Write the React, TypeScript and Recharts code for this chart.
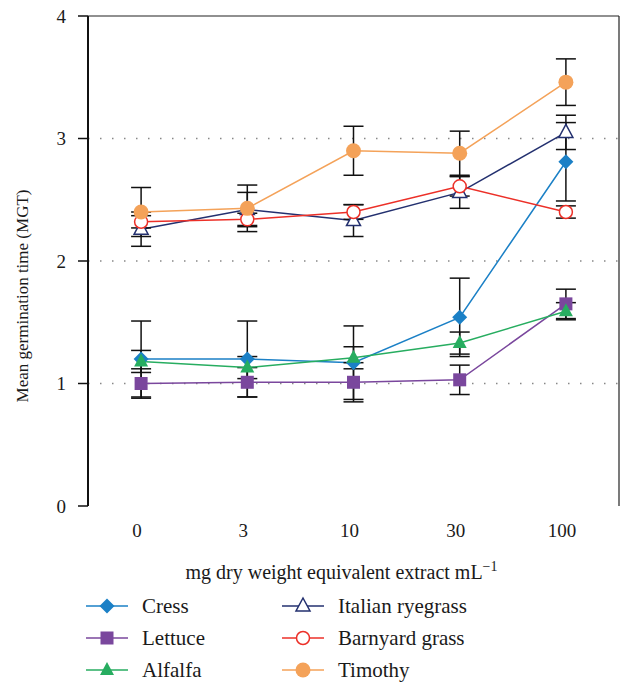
import React from 'react';
import { LineChart, Line, XAxis, YAxis, CartesianGrid, ErrorBar, ReferenceLine, Legend } from 'recharts';

// concentrations (mg dry weight equivalent extract / mL)
const concentrations = ['0', '3', '10', '30', '100'];

const cress = [1.2, 1.2, 1.17, 1.54, 2.81];
const cressErr = [0.31, 0.31, 0.3, 0.32, 0.32];
const lettuce = [1.0, 1.01, 1.01, 1.03, 1.65];
const lettuceErr = [0.12, 0.12, 0.16, 0.12, 0.12];
const alfalfa = [1.18, 1.13, 1.21, 1.33, 1.59];
const alfalfaErr = [0.09, 0.09, 0.09, 0.09, 0.07];
const ryegrass = [2.26, 2.42, 2.33, 2.56, 3.05];
const ryegrassErr = [0.14, 0.14, 0.13, 0.13, 0.14];
const barnyard = [2.32, 2.34, 2.4, 2.61, 2.4];
const barnyardErr = [0.05, 0.05, 0.06, 0.08, 0.05];
const timothy = [2.4, 2.43, 2.9, 2.88, 3.46];
const timothyErr = [0.2, 0.19, 0.2, 0.18, 0.19];

const yTicks = [0, 1, 2, 3, 4];

const FONT = '"Liberation Serif", Tinos, "DejaVu Serif", serif';

type Shape = 'diamond' | 'square' | 'triangle' | 'triangleOpen' | 'circleOpen' | 'circle';

const series: { key: string; name: string; color: string; shape: Shape }[] = [
    { key: 'cress', name: 'Cress', color: '#1b80c6', shape: 'diamond' },
    { key: 'lettuce', name: 'Lettuce', color: '#7a479d', shape: 'square' },
    { key: 'alfalfa', name: 'Alfalfa', color: '#27ad60', shape: 'triangle' },
    { key: 'ryegrass', name: 'Italian ryegrass', color: '#23306f', shape: 'triangleOpen' },
    { key: 'barnyard', name: 'Barnyard grass', color: '#ec3028', shape: 'circleOpen' },
    { key: 'timothy', name: 'Timothy', color: '#f4a259', shape: 'circle' },
];

const data = concentrations.map((c, i) => ({
    conc: c,
    pos: i + 0.5,
    cress: cress[i], cressErr: cressErr[i],
    lettuce: lettuce[i], lettuceErr: lettuceErr[i],
    alfalfa: alfalfa[i], alfalfaErr: alfalfaErr[i],
    ryegrass: ryegrass[i], ryegrassErr: ryegrassErr[i],
    barnyard: barnyard[i], barnyardErr: barnyardErr[i],
    timothy: timothy[i], timothyErr: timothyErr[i],
}));

const Marker = ({ cx, cy, shape, color }: { cx: number; cy: number; shape: Shape; color: string }) => {
    switch (shape) {
        case 'diamond':
            return <polygon points={`${cx},${cy - 7.5} ${cx + 7.5},${cy} ${cx},${cy + 7.5} ${cx - 7.5},${cy}`} fill={color} />;
        case 'square':
            return <rect x={cx - 6.5} y={cy - 6.5} width={13} height={13} fill={color} />;
        case 'triangle':
            return <polygon points={`${cx},${cy - 8} ${cx + 7},${cy + 5} ${cx - 7},${cy + 5}`} fill={color} />;
        case 'triangleOpen':
            return <polygon points={`${cx},${cy - 8} ${cx + 7},${cy + 5} ${cx - 7},${cy + 5}`} fill="#fff" stroke={color} strokeWidth={1.5} />;
        case 'circleOpen':
            return <circle cx={cx} cy={cy} r={6.5} fill="#fff" stroke={color} strokeWidth={1.5} />;
        default:
            return <circle cx={cx} cy={cy} r={7.5} fill={color} />;
    }
};

const LegendContent = () => {
    const cols = [series.slice(0, 3), series.slice(3)];
    return (
        <div style={{ display: 'flex', fontFamily: FONT, fontSize: 21, color: '#1a1a1a' }}>
            {cols.map((col, ci) => (
                <div key={ci} style={{ width: ci === 0 ? 196 : 260 }}>
                    {col.map(s => (
                        <div key={s.key} style={{ display: 'flex', alignItems: 'center', height: 32 }}>
                            <svg width={42} height={20} style={{ marginRight: 14 }}>
                                <line x1={0} y1={10} x2={42} y2={10} stroke={s.color} strokeWidth={1.5} />
                                <Marker cx={21} cy={10} shape={s.shape} color={s.color} />
                            </svg>
                            <span>{s.name}</span>
                        </div>
                    ))}
                </div>
            ))}
        </div>
    );
};

const XTitle = ({ viewBox }: any) => {
    const { x, y, width } = viewBox;
    return (
        <text x={x + width / 2 - 12} y={y + 73} textAnchor="middle" fontFamily={FONT} fontSize={20} fill="#1a1a1a">
            mg dry weight equivalent extract mL
            <tspan dy={-8} fontSize={14}>−1</tspan>
        </text>
    );
};

const YTitle = ({ viewBox }: any) => {
    const { x, y, height } = viewBox;
    const cx = x + 28;
    const cy = y + height / 2 + 35;
    return (
        <text x={cx} y={cy} textAnchor="middle" transform={`rotate(-90 ${cx} ${cy})`} fontFamily={FONT} fontSize={17} fill="#1a1a1a">
            Mean germination time (MGT)
        </text>
    );
};

export default function App() {
    return (
        <div style={{ position: 'absolute', left: 0, top: 0, width: 622, height: 683, background: '#fff', fontFamily: FONT }}>
            <LineChart width={622} height={683} data={data} margin={{ top: 16, right: 3, left: 0, bottom: 117 }}>
                <CartesianGrid xAxisId="cat" vertical={false} stroke="#888" strokeWidth={1.5} strokeDasharray="1.5 10.5" horizontalValues={[1, 2, 3]} />
                {/* band boundaries: tick marks + axis line */}
                <XAxis
                    xAxisId="bounds"
                    type="number"
                    domain={[0, 5]}
                    ticks={[0, 1, 2, 3, 4, 5]}
                    tick={false}
                    tickSize={9}
                    height={0}
                    axisLine={{ stroke: '#111', strokeWidth: 2.5 }}
                    tickLine={{ stroke: '#111', strokeWidth: 1.5 }}
                />
                {/* category labels at band centres */}
                <XAxis
                    xAxisId="cat"
                    type="number"
                    dataKey="pos"
                    domain={[0, 5]}
                    ticks={data.map(d => d.pos)}
                    tickFormatter={(v: number) => concentrations[Math.floor(v)]}
                    axisLine={false}
                    tickLine={false}
                    tickSize={0}
                    tickMargin={18}
                    height={60}
                    tick={{ fontFamily: FONT, fontSize: 19, fill: '#1a1a1a', dx: -4 }}
                    label={<XTitle />}
                />
                <YAxis
                    type="number"
                    domain={[0, 4]}
                    ticks={yTicks}
                    width={88}
                    tickSize={10}
                    tickMargin={12}
                    axisLine={{ stroke: '#111', strokeWidth: 2 }}
                    tickLine={{ stroke: '#111', strokeWidth: 1.5 }}
                    tick={{ fontFamily: FONT, fontSize: 19, fill: '#1a1a1a' }}
                    label={<YTitle />}
                />
                <ReferenceLine xAxisId="cat" y={4} stroke="#222" strokeWidth={1.2} />
                <ReferenceLine xAxisId="cat" x={5} stroke="#222" strokeWidth={1.2} />
                {series.map(s => (
                    <Line
                        key={s.key}
                        xAxisId="cat"
                        dataKey={s.key}
                        name={s.name}
                        stroke={s.color}
                        strokeWidth={1.5}
                        isAnimationActive={false}
                        dot={(p: any) => <Marker key={`${s.key}-${p.index}`} cx={p.cx} cy={p.cy} shape={s.shape} color={s.color} />}
                        activeDot={false}
                    >
                        <ErrorBar dataKey={`${s.key}Err`} direction="y" width={10} stroke="#111" strokeWidth={1.5} isAnimationActive={false} />
                    </Line>
                ))}
                <Legend
                    layout="horizontal"
                    verticalAlign="middle"
                    align="center"
                    content={<LegendContent />}
                    wrapperStyle={{ left: 86, top: 590, width: 500 }}
                />
            </LineChart>
        </div>
    );
}
